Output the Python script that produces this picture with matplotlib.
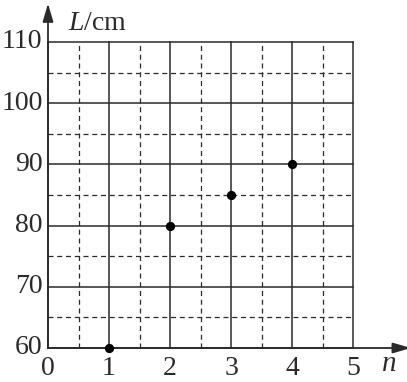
import matplotlib.pyplot as plt
import numpy as np

# data
n_vals = [1, 2, 3, 4]
L_vals = [60, 80, 85, 90]
x_ticks = [0, 1, 2, 3, 4, 5]
y_ticks = [60, 70, 80, 90, 100, 110]

plt.rcParams['font.family'] = ['Liberation Serif', 'DejaVu Serif']
plt.rcParams['mathtext.fontset'] = 'custom'
plt.rcParams['mathtext.it'] = 'Liberation Serif:italic'
plt.rcParams['mathtext.rm'] = 'Liberation Serif'
ink = '#2a2a2a'

fig = plt.figure(figsize=(4.07, 3.82), dpi=100)
ax = fig.add_axes([48/407, 34/382, 305/407, 306/382])
ax.set_xlim(0, 5)
ax.set_ylim(60, 110)

# solid grid
for x in x_ticks:
    ax.plot([x, x], [60, 110], color=ink, lw=1.1, clip_on=False)
for y in y_ticks:
    ax.plot([0, 5], [y, y], color=ink, lw=1.1, clip_on=False)
# dashed grid
for x in np.arange(0.5, 5, 1.0):
    ax.plot([x, x], [60, 110], color=ink, lw=0.9, ls=(0, (4, 3)), clip_on=False)
for y in np.arange(65, 110, 10):
    ax.plot([0, 5], [y, y], color=ink, lw=0.9, ls=(0, (4, 3)), clip_on=False)

# axes with arrows
arrow = dict(arrowstyle='-|>,head_length=1.1,head_width=0.32', color=ink, lw=1.3,
             shrinkA=0, shrinkB=0)
ax.annotate('', xy=(5.95, 60), xytext=(0, 60), annotation_clip=False, arrowprops=arrow)
ax.annotate('', xy=(0, 116.3), xytext=(0, 60), annotation_clip=False, arrowprops=arrow)

ax.scatter(n_vals, L_vals, s=32, color='black', zorder=5, clip_on=False)

for s in ax.spines.values():
    s.set_visible(False)
ax.set_xticks([])
ax.set_yticks([])

for x in x_ticks:
    ax.text(x, 55.6, str(x), ha='center', va='baseline', fontsize=20, color=ink)
for y in y_ticks:
    ax.text(-0.09, y, str(y), ha='right', va='center', fontsize=20, color=ink)

ax.text(5.6, 56.2, 'n', ha='center', va='baseline', fontsize=21, style='italic', color=ink)
ax.text(0.33, 112.0, r'$L$/cm', ha='left', va='baseline', fontsize=20, color=ink)

fig.savefig('out.png', dpi=100, facecolor='white')
